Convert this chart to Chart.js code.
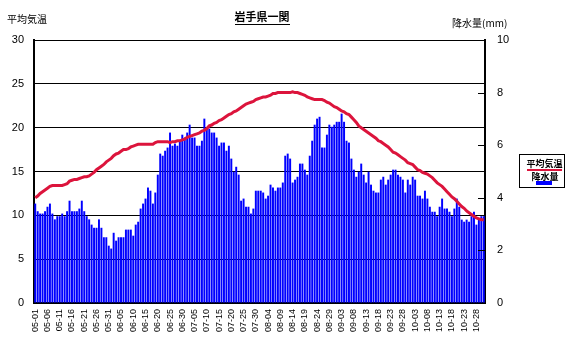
<!DOCTYPE html>
<html>
<head>
<meta charset="utf-8">
<script src="https://cdn.jsdelivr.net/npm/chart.js@4.4.0/dist/chart.umd.min.js"></script>
<style>
  html, body { margin: 0; padding: 0; background: #fff; }
  #wrap { width: 581px; height: 343px; position: relative; }
</style>
</head>
<body>
<div id="wrap"><canvas id="c" width="581" height="343"></canvas></div>
<script>
// Daily categories, 05-01 .. 10-31
const months = [[5, 31], [6, 30], [7, 31], [8, 31], [9, 30], [10, 31]];
const dates = [];
for (const [m, n] of months) {
  for (let d = 1; d <= n; d++) {
    dates.push(String(m).padStart(2, '0') + '-' + String(d).padStart(2, '0'));
  }
}

// 平均気温 (°C), left axis
const temperature = [
  12.0,12.2,12.5,12.7,12.9,13.1,13.3,13.4,13.4,13.4,
  13.4,13.4,13.5,13.6,13.9,14.0,14.1,14.1,14.2,14.3,
  14.4,14.4,14.5,14.7,14.9,15.2,15.4,15.6,15.8,16.1,
  16.3,16.5,16.8,17.0,17.1,17.3,17.5,17.5,17.6,17.8,
  17.9,18.0,18.1,18.1,18.1,18.1,18.1,18.1,18.1,18.3,
  18.4,18.4,18.4,18.4,18.4,18.3,18.4,18.4,18.5,18.5,
  18.6,18.7,18.9,19.0,19.1,19.2,19.3,19.4,19.6,19.7,
  19.9,20.2,20.3,20.5,20.6,20.8,20.9,21.1,21.3,21.5,
  21.6,21.8,21.9,22.1,22.3,22.5,22.7,22.8,22.9,23.0,
  23.2,23.3,23.4,23.5,23.5,23.6,23.7,23.9,23.9,24.0,
  24.0,24.0,24.0,24.0,24.0,24.1,24.0,24.0,23.9,23.8,
  23.7,23.5,23.4,23.3,23.2,23.2,23.2,23.2,23.1,22.9,
  22.8,22.6,22.4,22.3,22.1,21.9,21.8,21.6,21.5,21.2,
  20.9,20.6,20.2,20.0,19.8,19.6,19.4,19.2,19.0,18.8,
  18.5,18.4,18.2,18.0,17.8,17.5,17.2,17.1,16.9,16.7,
  16.5,16.3,16.0,15.9,15.8,15.5,15.2,15.1,14.9,14.8,
  14.7,14.5,14.3,14.0,13.7,13.5,13.3,13.0,12.7,12.4,
  12.1,11.9,11.6,11.3,11.0,10.8,10.5,10.3,10.1,9.9,
  9.7,9.6,9.5,9.5
];

// 降水量 (mm), right axis
const precipitation = [
  3.78,3.49,3.40,3.40,3.49,3.66,3.78,3.40,3.18,3.30,
  3.30,3.40,3.30,3.49,3.89,3.49,3.49,3.49,3.59,3.89,
  3.49,3.30,3.18,2.98,2.86,2.86,3.18,2.86,2.50,2.50,
  2.18,2.07,2.67,2.37,2.50,2.50,2.50,2.79,2.79,2.79,
  2.56,2.98,3.09,3.59,3.78,3.97,4.39,4.27,3.78,4.20,
  4.88,5.68,5.60,5.79,5.91,6.48,5.98,6.06,5.98,6.13,
  6.40,6.29,6.48,6.78,6.29,6.29,5.98,5.98,6.17,7.01,
  6.63,6.63,6.48,6.48,6.29,5.98,6.10,6.10,5.79,5.98,
  5.49,4.99,5.18,4.88,3.89,3.97,3.66,3.66,3.40,3.59,
  4.27,4.27,4.27,4.20,3.97,4.08,4.50,4.39,4.27,4.39,
  4.39,4.58,5.60,5.68,5.49,4.58,4.69,4.80,5.30,5.30,
  5.07,4.88,5.60,6.17,6.78,7.01,7.08,5.91,5.91,6.40,
  6.78,6.70,6.78,6.89,6.89,7.20,6.89,6.17,6.10,5.49,
  5.07,4.80,4.99,5.30,4.88,4.58,4.99,4.50,4.27,4.20,
  4.20,4.69,4.80,4.50,4.69,4.88,5.07,5.07,4.88,4.80,
  4.69,4.20,4.69,4.50,4.80,4.69,4.08,4.08,3.97,4.27,
  3.97,3.66,3.47,3.47,3.30,3.66,3.97,3.59,3.59,3.47,
  3.30,3.59,3.97,3.66,3.17,3.09,3.17,3.09,3.30,3.47,
  2.98,3.17,3.30,3.30
];

const titleText = '岩手県一関';
const leftAxisTitle = '平均気温';
const rightAxisTitle = '降水量(mm)';
const seriesNames = ['平均気温', '降水量'];
const lineColor = '#DC143C';
const barColor = '#0000FF';

const jpFont = '"Noto Sans CJK JP", "Noto Sans", sans-serif';
const numFont = '"Liberation Sans", Arial, sans-serif';

// Titles, legend box and inner tick marks of the right axis
const decorations = {
  id: 'decorations',
  afterDraw(chart) {
    const ctx = chart.ctx;
    const area = chart.chartArea;
    ctx.save();

    // inner tick marks on the right axis
    const r = chart.scales.y1;
    ctx.strokeStyle = '#000';
    ctx.lineWidth = 1;
    r.ticks.forEach(t => {
      if (t.value <= 0 || t.value >= 10) return;
      const y = Math.round(r.getPixelForValue(t.value)) + 0.5;
      ctx.beginPath();
      ctx.moveTo(area.right - 7, y);
      ctx.lineTo(area.right, y);
      ctx.stroke();
    });

    ctx.fillStyle = '#000';
    ctx.textBaseline = 'middle';

    // chart title, underlined
    ctx.font = 'bold 11px ' + jpFont;
    ctx.textAlign = 'center';
    const tx = 262, ty = 17;
    ctx.fillText(titleText, tx, ty);
    const tw = ctx.measureText(titleText).width;
    ctx.fillRect(Math.round(tx - tw / 2), ty + 7, Math.round(tw), 1);

    // axis titles
    ctx.font = '10px ' + jpFont;
    ctx.textAlign = 'left';
    ctx.fillText(leftAxisTitle, 7, 19);
    ctx.fillText(rightAxisTitle, 452, 23);

    // legend
    ctx.strokeStyle = '#000';
    ctx.lineWidth = 1;
    ctx.strokeRect(519.5, 154.5, 45, 33);
    ctx.font = 'bold 9px ' + jpFont;
    ctx.textAlign = 'center';
    ctx.fillText(seriesNames[0], 544.5, 164);
    ctx.fillStyle = lineColor;
    ctx.fillRect(527, 169, 35, 2);
    ctx.fillStyle = '#000';
    ctx.fillText(seriesNames[1], 545, 176.5);
    ctx.fillStyle = barColor;
    ctx.fillRect(536, 181, 16, 4);

    ctx.restore();
  }
};

new Chart(document.getElementById('c'), {
  data: {
    labels: dates,
    datasets: [
      {
        type: 'line',
        label: seriesNames[0],
        data: temperature,
        yAxisID: 'y',
        borderColor: lineColor,
        borderWidth: 3,
        pointRadius: 0,
        tension: 0,
        order: 0
      },
      {
        type: 'bar',
        label: seriesNames[1],
        data: precipitation,
        yAxisID: 'y1',
        backgroundColor: barColor,
        barPercentage: 0.8,
        categoryPercentage: 1.0,
        order: 1
      }
    ]
  },
  options: {
    responsive: false,
    animation: false,
    devicePixelRatio: 1,
    layout: { padding: { top: 40, left: 0, right: 0, bottom: 0 } },
    plugins: {
      legend: { display: false },
      tooltip: { enabled: false },
      title: { display: false }
    },
    scales: {
      x: {
        offset: true,
        grid: { display: false, drawTicks: false },
        border: { color: '#000', width: 2 },
        ticks: {
          autoSkip: false,
          minRotation: 90,
          maxRotation: 90,
          padding: 6,
          color: '#000',
          font: { family: numFont, size: 9 },
          callback: (v, i) => (i % 5 === 0 ? dates[i] : '')
        },
        afterFit: s => { s.height = 40; }
      },
      y: {
        position: 'left',
        min: 0,
        max: 30,
        ticks: { stepSize: 5, padding: 10, color: '#000', font: { family: numFont, size: 11 } },
        grid: { color: '#000', lineWidth: 1, drawTicks: false },
        border: { color: '#000', width: 2 },
        afterFit: s => { s.width = 34; }
      },
      y1: {
        position: 'right',
        min: 0,
        max: 10,
        ticks: { stepSize: 2, padding: 12, color: '#000', font: { family: numFont, size: 11 } },
        grid: { drawOnChartArea: false, drawTicks: false },
        border: { color: '#000', width: 2 },
        afterFit: s => { s.width = 96; }
      }
    }
  },
  plugins: [decorations]
});
</script>
</body>
</html>
